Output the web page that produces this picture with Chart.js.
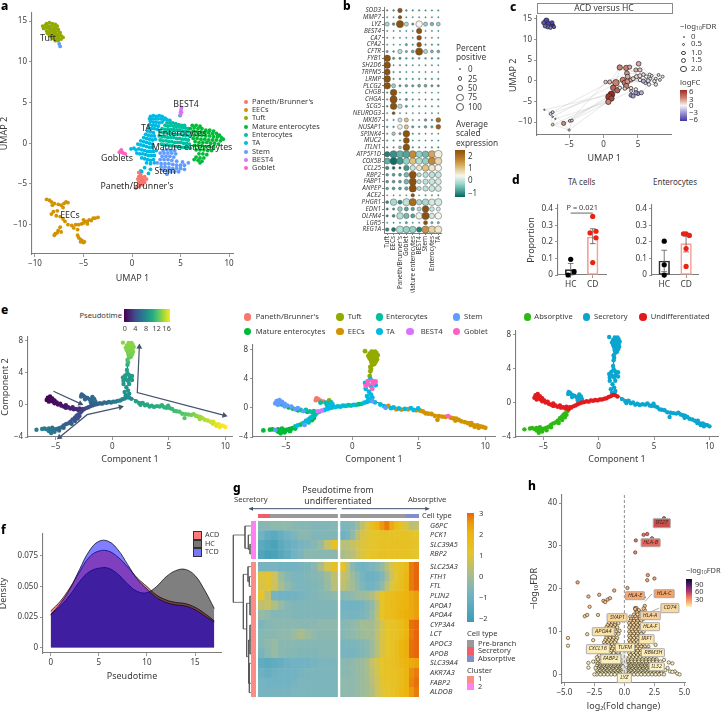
<!DOCTYPE html>
<html><head><meta charset="utf-8">
<script src="https://cdn.jsdelivr.net/npm/chart.js@4/dist/chart.umd.min.js"></script>
<style>
html,body{margin:0;padding:0;background:#fff;width:722px;height:713px;overflow:hidden}
canvas{position:absolute}
.t{position:absolute;white-space:nowrap;color:#333;line-height:1;font-family:"Noto Sans",sans-serif}
.t sub{font-size:.65em;vertical-align:-.25em;line-height:0}
.b{position:absolute}
</style></head><body>
<script>
/* ===== panel a : UMAP ===== */
const cellColors={Paneth:'#F8766D',EECs:'#D39200',Tuft:'#93AA00',Mature:'#00BA38',Entero:'#00C19F',TA:'#00B9E3',Stem:'#619CFF',BEST4:'#DB72FB',Goblet:'#FF61C3'};
const legendA=["Paneth/Brunner's",'EECs','Tuft','Mature enterocytes','Enterocytes','TA','Stem','BEST4','Goblet'];
const umapTuft=[[-8.8,14.7],[-8.5,14.8],[-8.2,14.7],[-7.9,14.6],[-9.2,14.4],[-8.9,14.5],[-8.6,14.4],[-8.3,14.4],[-8,14.3],[-7.7,14.4],[-9.1,14.1],[-8.8,14.2],[-8.5,14.1],[-8.2,14],[-7.9,14.1],[-7.6,14],[-8.8,13.8],[-8.5,13.7],[-8.2,13.8],[-7.9,13.7],[-7.6,13.8],[-7.4,13.6],[-8.7,13.5],[-8.4,13.4],[-8.1,13.5],[-7.8,13.4],[-7.5,13.4],[-8.5,13.2],[-8.2,13.1],[-7.9,13.2],[-7.6,13.1],[-7.3,13.2],[-8.2,12.9],[-7.9,12.8],[-7.6,12.9],[-7.3,12.8],[-7.9,12.6],[-7.6,12.6],[-7.1,13]];
const umapEEC=[[-8.8,-6.9],[-8.5,-7],[-8.3,-7.2],[-8.2,-7.6],[-8,-7.4],[-7.6,-7.5],[-7.3,-7.6],[-7,-7.4],[-6.8,-7.2],[-6.6,-7.3],[-7.1,-7.9],[-7.7,-8.3],[-8.1,-8.4],[-8.3,-8.7],[-7.8,-8.9],[-7.4,-9],[-7.1,-9.3],[-6.9,-9.6],[-6.6,-10],[-6.2,-10.1],[-6,-10.4],[-5.6,-10.6],[-5.8,-10],[-5.5,-10],[-5.2,-9.9],[-5,-9.8],[-4.8,-9.6],[-4.6,-9.6],[-4.4,-9.4],[-4.2,-9.5],[-4,-9.2],[-3.8,-9.2],[-3.5,-9.1],[-5,-9.4],[-4.6,-9.9],[-7.4,-10.3],[-7.6,-10.7],[-7.3,-10.9],[-7.7,-11],[-8,-11.3],[-7.9,-11.1],[-5.6,-11.3],[-5.5,-11.6],[-5.3,-11.8],[-5.1,-12],[-5,-12.2],[-5.3,-12.1],[-4.9,-12.1]];
const umapTA=[[1.9,3.3],[2.2,3.4],[2.5,3.3],[2.8,3.4],[3.1,3.3],[3.4,3.1],[1.8,3],[2.1,3],[2.4,3],[2.7,3],[3,3],[3.3,2.9],[3.6,2.9],[3.9,2.8],[1.9,2.7],[2.2,2.6],[2.5,2.6],[2.8,2.5],[3.1,2.6],[1.8,2.3],[2.1,2.2],[2.4,2.2],[2.7,2.1],[1.7,1.9],[2,1.8],[2.3,1.8],[2.6,1.7],[1.6,1.5],[1.9,1.4],[2.2,1.3],[1.4,1.1],[1.7,1],[2,.9],[2.3,.9],[1.2,.7],[1.5,.6],[1.8,.5],[2.1,.4],[2.4,.5],[.9,.3],[1.2,.2],[1.5,.1],[1.8,0],[2.1,-.1],[.6,-.1],[.9,-.2],[1.2,-.3],[1.5,-.4],[1.8,-.5],[2.1,-.5],[.2,-.6],[-.1,-.7],[.4,-.8],[.7,-.7],[1,-.8],[1.3,-.9],[1.6,-1],[1.9,-1],[2.2,-1],[2.5,-.9],[.5,-1.2],[.8,-1.3],[1.1,-1.3],[1.4,-1.4],[1.7,-1.5],[2,-1.5],[2.3,-1.5],[1,-1.8],[1.3,-1.9],[1.6,-2],[1.9,-2.1],[2.2,-2],[1.5,-2.4],[1.9,-2.5],[2.3,-2.4],[1.3,-3],[1.9,-3.2],[1.7,-3.7],[.9,-3.4],[1,-3.5]];
const umapEntero=[[3.6,2.5],[3.9,2.5],[4.2,2.5],[4.5,2.4],[4.8,2.3],[5.1,2.2],[5.4,2.2],[3.4,2.2],[3.7,2.1],[4,2.2],[4.3,2.1],[4.6,2],[4.9,2],[5.2,1.9],[5.5,1.9],[5.8,1.8],[3.1,1.8],[3.4,1.7],[3.7,1.7],[4,1.7],[4.3,1.7],[4.6,1.6],[4.9,1.6],[5.2,1.5],[5.5,1.5],[5.8,1.4],[6.1,1.3],[2.9,1.4],[3.2,1.3],[3.5,1.3],[3.8,1.2],[4.1,1.2],[4.4,1.1],[4.7,1.1],[5,1.1],[5.3,1],[5.6,1],[5.9,.9],[2.8,.9],[3.1,.8],[3.4,.8],[3.7,.7],[4,.7],[4.3,.7],[4.6,.6],[4.9,.6],[5.2,.5],[5.5,.5],[5.8,.4],[2.9,.4],[3.2,.3],[3.5,.3],[3.8,.2],[4.1,.2],[4.4,.1],[4.7,.1],[5,.1],[5.3,0],[5.6,0],[5.9,-.1],[3,-.1],[3.3,-.2],[3.6,-.2],[3.9,-.3],[4.2,-.3],[4.5,-.4],[4.8,-.4],[5.1,-.5],[5.4,-.5],[5.7,-.5],[6,-.6],[4.95,3.4]];
const umapMature=[[6.2,2.2],[6.6,2.2],[7,2.1],[6,1.8],[6.4,1.9],[6.8,1.8],[7.2,1.8],[7.6,1.6],[8,1.6],[8.4,1.5],[6.3,1.5],[6.7,1.4],[7.1,1.4],[7.5,1.3],[7.9,1.3],[8.3,1.2],[8.7,1.2],[9,1],[6.4,1],[6.8,1],[7.2,1],[7.6,.9],[8,.9],[8.4,.8],[8.8,.8],[9.2,.7],[9.4,.5],[6.3,.6],[6.7,.6],[7.1,.5],[7.5,.5],[7.9,.4],[8.3,.4],[8.7,.4],[9.1,.3],[6.5,.2],[6.9,.1],[7.3,.1],[7.7,.1],[8.1,0],[8.5,0],[8.9,-.1],[6.4,-.3],[6.8,-.3],[7.2,-.3],[7.6,-.4],[8,-.4],[8.4,-.5],[6.6,-.8],[7,-.8],[7.4,-.8],[7.8,-.9],[8.2,-.9],[6.9,-1.3],[7.3,-1.3],[7.7,-1.4],[6.6,-1.7],[7,-1.8],[7.4,-1.8],[6.8,-2.1],[7.2,-2.2],[7,-2.4],[6.4,-2]];
const umapStem=[[3.2,-.9],[3.6,-.8],[4,-.9],[4.4,-.9],[2.9,-1.2],[3.3,-1.2],[3.7,-1.2],[4.1,-1.2],[4.5,-1.3],[3.1,-1.6],[3.5,-1.6],[3.9,-1.6],[4.3,-1.7],[2.9,-2],[3.3,-2],[3.7,-2],[4.1,-2.1],[4.6,-2.2],[5.2,-2.3],[5.8,-2.4],[2.6,-2.4],[3,-2.5],[3.4,-2.5],[3.8,-2.5],[4.2,-2.6],[4.6,-2.7],[5,-2.7],[5.4,-2.7],[3,-2.9],[3.4,-2.9],[3.8,-3],[4.2,-3.1],[4.6,-3.1],[5,-3.1],[5.4,-3.2],[3.2,-3.3],[3.6,-3.4],[4,-3.5],[4.4,-3.5],[4.8,-3.5],[3.6,-3.8],[-7.5,12.2],[-7.4,11.9]];
const umapPaneth=[[.7,-3.6],[.9,-3.9],[.7,-4.1],[1,-4.2],[1.3,-4.1],[.6,-4.4],[.9,-4.5],[1.2,-4.5],[1.5,-4.4],[.7,-4.8],[1,-4.8],[1.3,-4.8],[.8,-5.1],[1.1,-5.1],[.4,-5.5],[.7,-5.3]];
const umapGoblet=[[-1.3,-1.1],[-1.1,-.8],[-1,-1.1],[-.9,-1.2],[-1.2,-1],[-.7,-1.3]];
const umapBest4=[[5.1,4.4],[5.05,4.1],[5.1,3.8],[5,3.5],[5,3.8]];

/* ===== panel b : dot plot ===== */
const dotGenes=['SOD3','MMP7','LYZ','BEST4','CA7','CPA2','CFTR','FYB1','SH2D6','TRPM5','LRMP','PLCG2','CHGB','CHGA','SCG5','NEUROG3','MKI67','NUSAP1','SPINK4','MUC2','ITLN1','ATP5F1D','COX5B','CCL25','RBP2','FABP1','ANPEP','ACE2','PHGR1','EDN1','OLFM4','LGR5','REG1A'];
const dotClusters=['Tuft','EECs',"Paneth/Brunner's",'Goblet','Mature enterocytes','BEST4','Stem','Enterocytes','TA'];
const dotSize=[[1,1.2,3.3,1.2,1,1,.9,.9,.9],[.8,.8,2.5,.8,.8,.8,.8,.8,.8],[3,1.8,5.5,3,1.5,5,3,2.5,2.8],[.8,.8,.8,.8,.8,4,.8,.8,.8],[.8,.8,.8,.8,.8,3.5,.8,.8,.8],[.8,.8,.8,1.5,1,3.5,1,1,1],[1.5,1.2,3.2,1.5,2,5.5,3,2,2],[5,1.5,1.5,1.2,1.2,1.2,1.2,1.2,1.2],[5,.8,1,1,.8,.8,.8,.8,.8],[4.5,1,1,.8,.8,.8,.8,.8,.8],[5,1,1.2,1,1,1,1,1,1],[5,3,1.5,1.8,1.5,2,2,1.5,1.5],[1,5,.8,1,.8,.8,.8,.8,.8],[1,5.5,1,1.5,1,1,.8,1,1],[1.2,5,3.2,1.5,1,1,1,1,1],[.8,2,.8,.8,.8,.8,.8,.8,.8],[1,1,3,3,1,1,1.8,1.2,3.5],[1.2,1.2,3.5,3,1.5,1.2,1.8,1.5,3.5],[1,2.5,1.5,5,1,1,.8,.8,.8],[1,1,1,4.5,.8,.8,.8,.8,.8],[1,1,2,5,1,1,.8,1,1],[4,5.5,5.5,5.5,5.5,5,5,5.5,6],[4.5,5.5,5,5,5,5,5,5.5,5.5],[2.5,2,1.5,4,4,4,5,5,5],[1.8,2,2,3.5,5.5,3,4,4.5,4.5],[1.8,2,2,3.5,5.5,3,4,4.5,4.5],[1.8,2,2,2.5,5.5,3,4,4.5,4.5],[.8,.8,.8,.8,2.5,.8,1,1,1],[2,5,3,5.5,5.5,4,5,5,5.5],[1.5,1.5,3.5,3,2.5,3,5,3.5,3],[1.5,2,5,4,3,5,5.5,4,5],[.8,.8,1,1.5,.8,.8,3,1.5,1.5],[2.5,3,5.5,5,5,4,5.5,5.5,5.5]];
const dotExpr=[[-1,-1,2.4,-1,-1,-1,-1,-1,-1],[-1,-1,2.4,-1,-1,-1,-1,-1,-1],[-.4,-1,2.4,-.4,-.9,.3,-.5,-.7,-.5],[-1,-1,-1,-1,-1,2.4,-1,-1,-1],[-1,-1,-1,-1,-1,2.4,-1,-1,-1],[-1,-1,-1,-.8,-1,2.4,-1,-1,-1],[-.8,-1,-.3,-.8,-.8,2.4,-.4,-.7,-.7],[2.4,-1,-1,-1,-1,-1,-1,-1,-1],[2.4,-1,-1,-1,-1,-1,-1,-1,-1],[2.4,-1,-1,-1,-1,-1,-1,-1,-1],[2.4,-1,-1,-1,-1,-1,-1,-1,-1],[2.4,-.5,-.9,-.8,-.9,-.8,-.8,-.9,-.9],[-1,2.4,-1,-1,-1,-1,-1,-1,-1],[-1,2.4,-1,-.9,-1,-1,-1,-1,-1],[-1,2.4,-.3,-.9,-1,-1,-1,-1,-1],[-1,2.4,-1,-1,-1,-1,-1,-1,-1],[-1,-1,-.1,1,-.9,-1,-.8,-1,2],[-1,-1,.2,1,-.9,-1,-.8,-.9,2.2],[-.9,-.5,-.8,2.4,-1,-1,-1,-1,-1],[-1,-1,-1,2.4,-1,-1,-1,-1,-1],[-1,-1,-.6,2.4,-1,-1,-1,-1,-1],[-1.3,-1.1,-.8,-.9,1.6,-.5,-.7,1.3,.4],[-.8,-1.5,-1,-.5,1,-.3,-.5,1.6,.7],[-1.1,-1.5,-1.6,-1,-.1,.5,1,.5,.3],[-.9,-.9,-.9,-.7,2.4,-.3,-.2,-.2,-.1],[-.9,-.9,-.9,-.7,2.4,-.3,-.2,-.1,0],[-.9,-.9,-.9,-.8,2.4,-.3,-.2,-.1,0],[-.9,-.9,-.9,-.9,2.4,-.9,-.8,-.8,-.8],[-1.1,-.4,-1.2,-.2,2,-.4,-.4,0,0],[-1.2,-1.1,-.5,-.9,-.9,-.3,2.4,-.1,0],[-1.2,-1.1,-.3,-.7,-.9,.2,2.4,0,.3],[-1,-1,-.9,-.8,-1,-1,2.4,-.7,-.7],[-1.2,-1.4,-.3,-.5,-.5,-1.3,1.5,.8,.5]];

/* ===== panel c : network ===== */
const netNodes=[[-8.3,14.5,4,-5.5],[-8.7,14,3,-5],[-8,13.8,3.2,-5.5],[-7.4,13.4,3,-6],[-7.5,14,3,-5.5],[-8.1,13,3,-4.5],[-7.7,12.8,2.5,-4],[-8.5,13.2,2.8,-4.5],[-7.2,13,2.5,-5],
[-8.6,-7,.8,-1],[-7.4,-7.6,2,-1],[-7.7,-8,2,-.8],[-7.4,-8.7,1,-.5],[-7,-9.2,.8,-.5],[-7.4,-10.6,1.8,.6],[-5.8,-10.3,3,2.6],[-4.9,-9.7,2,1.2],[-4.6,-9.6,2,1.2],[-5,-11.9,1.5,.1],
[2.36,3.2,4,3],[3.3,3.1,4,3],[3.8,3.3,3,2],[5.1,4.1,3.5,2],[3.4,1.8,3.5,2.5],[4.7,2.6,3,1.8],[5.3,2.6,3,1.2],[.9,-.3,3,1.5],[.3,-.3,2.5,1],[1.8,-.5,5,3],[1.4,-1.7,4,4],[2,-2.3,4,4],[1.15,-3.3,5,6],[.8,-3.9,5,5.5],[1.15,-4.3,4,5],[.7,-5.1,4,3],[2.8,.2,4,3],[3.1,-.5,4,3],[3.5,-.15,4,2.5],[3.3,-1.3,4,3],[4,.2,3,2],[3.5,1,3.5,2],[4.3,.5,3,1],[4.8,1,3,1],[5.3,1.2,3,.5],[5.8,1.5,2.5,-.5],[6.2,1,2.5,0],[6.5,0,3,-1],[5.8,-.1,3,-2],[5.3,.2,2.5,.3],[7.4,-.1,2.5,.3],[8,1.4,2,.5],[8.6,1,2,.3],[7.6,-.9,2.5,-.5],[6.6,-.9,2.5,-.2],[4,-1.8,2.5,.5],[4.7,-2.1,2.5,.2],[4,-3.5,3,-3],[4.3,-3.7,3,-2.5],[5,-3.1,3,-2.5],[5.5,-2.9,3,-2],[4.7,-2.9,3,-3],[2.36,-1.7,2.5,.5],[3.1,-1.9,2.5,1],[4,-2.5,2,.3],[6.8,.5,2,.3],[7,1.2,2,0],[7.6,.5,2,.2],[8.2,.2,2,.1],[6.1,-.6,2,-1],[6.7,1.5,2,-.2]];
const netEdges=[[9,10],[10,11],[11,12],[12,13],[13,14],[14,15],[15,16],[16,17],[10,15],[11,14],[14,18],[15,18],[18,17],[17,34],[16,32],[15,31],[18,33],[13,34],[12,35],[10,26],[11,30],[16,27],[14,33],[9,31],[19,20],[20,21],[21,22],[19,23],[23,24],[24,25],[22,25],[26,28],[27,28],[28,29],[29,30],[30,31],[31,32],[32,33],[33,34],[28,35],[35,36],[36,37],[37,38],[35,40],[40,41],[41,42],[42,43],[43,44],[44,45],[45,46],[46,47],[47,48],[48,39],[39,36],[49,50],[50,51],[51,49],[46,49],[45,64],[64,65],[65,66],[66,67],[67,51],[52,53],[53,46],[52,67],[54,55],[55,58],[58,59],[59,53],[56,57],[57,60],[60,54],[61,62],[62,63],[63,54],[38,62],[30,61],[19,28],[26,19],[27,23],[20,43],[23,44],[24,69],[69,50],[25,64],[47,68],[68,52],[38,54],[36,47],[37,48],[28,40],[30,38],[48,46],[22,69],[41,64],[42,65],[43,66],[44,49],[39,68],[61,55],[63,60],[31,62],[34,63],[33,61]];

/* ===== panel d ===== */
const groupNames=['HC','CD'];
const taBars=[.033,.23], taErr=[[0,.07],[.19,.28]];
const taHC=[[0,.095],[.15,.02],[-.12,0]], taCD=[[0,.355],[0,.075],[-.12,.255],[.15,.265],[.15,.225]];
const enBars=[.085,.19], enErr=[[.02,.15],[.14,.235]];
const enHC=[[0,.205],[0,.062],[0,0]], enCD=[[0,.052],[0,.16],[-.12,.25],[0,.25],[.15,.24]];

/* ===== panel e : trajectory, rows are component 1, component 2, pseudotime, cell type ===== */
const cellOrder=['Paneth','EECs','Tuft','Mature','Entero','TA','Stem','BEST4','Goblet'];
const trajUpper=[[-5.7,.9,0,6],[-5.5,1.05,.1,6],[-5.8,.6,.2,6],[-5.5,.7,.2,6],[-5.3,.8,.3,6],[-5.6,.4,.3,6],[-5.3,.45,.4,4],[-5.1,.55,.5,6],[-5.1,.2,.6,6],[-4.9,.3,.7,6],[-4.8,.05,.8,3],[-4.6,.15,.9,6],[-4.5,-.1,1,3],[-4.3,-.2,1.1,6],[-4.1,-.05,1.2,6],[-4.1,-.35,1.3,3],[-3.9,-.3,1.4,4],[-3.7,-.45,1.6,6],[-3.5,-.3,1.7,4],[-3.4,-.55,1.8,3],[-3.2,-.5,2,4],[-3,-.65,2.2,4],[-2.9,-.45,2.4,4],[-2.7,-.75,2.6,4],[-2.6,-.5,2.8,7]];
const trajShort=[[-2.7,1.3,5,0],[-2.55,1.15,5,0],[-2.75,1.05,5,0],[-2.4,.95,5,0],[-2.2,.85,5.2,0],[-2.4,.7,5.2,4],[-2,.7,5.4,4],[-1.75,1,5.5,2],[-1.8,.6,5.5,5],[-1.6,.75,5.6,4],[-1.9,.35,5.4,4],[-1.65,.3,5.6,5],[-1.5,.45,5.8,5],[-1.8,.05,5.2,4]];
const trajConn=[[-2.5,-.55,3.2,4],[-2.3,-.4,3.6,7],[-2.1,-.3,3.9,5],[-1.9,-.15,4.2,5],[-1.7,-.05,4.5,5],[-1.5,.05,4.8,4],[-1.3,.1,5,5],[-1.1,.2,5.2,4],[-.9,.15,5.4,5],[-.7,.3,5.6,4],[-.5,.25,5.8,5],[-.3,.35,6,4],[-.1,.3,6.2,4],[.1,.4,6.4,5],[.3,.4,6.6,4],[.5,.5,6.8,3],[.7,.55,7,4],[.9,.7,7.2,5],[1.1,.8,7.4,5],[1.3,.95,7.6,5],[1.5,.9,7.7,6],[1.7,.75,7.8,5]];
const trajLower=[[-2.8,-.95,3.5,4],[-3,-1.2,3.7,4],[-2.9,-1.4,3.8,3],[-3.15,-1.35,3.9,5],[-3.3,-1.6,4,5],[-3.05,-1.7,4,3],[-3.5,-1.8,4.2,5],[-3.3,-2,4.3,4],[-3.7,-2.1,4.4,5],[-3.9,-2.3,4.6,3],[-3.6,-2.35,4.6,6],[-4.1,-2.4,4.8,5],[-4.3,-2.55,5,4],[-4.5,-2.8,5.2,3],[-4.3,-2.85,5.2,3],[-4.7,-2.9,5.4,3],[-4.9,-3,5.6,3],[-4.7,-3.2,5.6,3],[-5.1,-3.05,5.8,3],[-5.3,-2.85,6,3],[-5.1,-3.35,6,3],[-5.4,-3.2,6.2,3],[-5.6,-2.95,6.3,3],[-5.6,-3.25,6.3,3],[-5.4,-3.5,6.4,3],[-5.8,-3.05,6.5,6],[-6,-2.95,6.6,3],[-6.2,-3,6.7,3],[-6.7,-3.1,6.8,3]];
const trajUp=[[1.4,1,8,5],[1.2,1.2,8,5],[1.5,1.4,8.1,5],[1.1,1.6,8.2,5],[1.4,1.8,8.2,5],[1.25,2.2,8.4,5],[1,2.6,8.5,5],[1.5,2.6,8.5,8],[1,3,8.6,8],[1.4,3,8.6,5],[1.75,3.1,8.7,5],[1.2,3.2,8.7,8],[1.55,3.3,8.7,8],[.95,3.4,8.8,5],[1.75,3.6,8.8,8],[1.5,3.7,8.9,8],[1.15,3.65,8.9,8],[1.35,3.95,9,5],[1.3,4.35,9.2,2],[1.35,5,10,2],[1.4,5.3,11,2],[1.35,5.6,11.5,2],[1.5,5.9,12,2],[1.65,6,12.2,2],[1.45,6.2,12.5,2],[1.75,6.3,12.6,2],[1.4,6.5,12.7,2],[1.6,6.5,12.8,2],[1.85,6.6,12.8,2],[1.3,6.8,12.9,2],[1.55,6.8,12.9,2],[1.8,6.9,13,2],[1.2,7.1,13,2],[1.45,7.1,13,2],[1.7,7.2,13,2],[1.9,7.2,13,2],[1.3,7.4,13.1,2],[1.55,7.4,13.1,2],[1.8,7.5,13.1,2],[1.45,7.7,13.2,2],[1.7,7.7,13.2,2],[.95,7.75,13.2,2]];
const trajRight=[[2.1,.45,9,5],[2.4,.2,9.2,5],[2.5,0,9.3,6],[2.7,.25,9.4,1],[2.9,-.05,9.5,5],[3.1,.05,9.6,5],[3.3,-.2,9.7,1],[3.5,-.1,9.8,5],[3.7,-.25,9.9,1],[3.95,-.15,10,5],[4.2,-.2,10.1,1],[4.4,-.05,10.2,5],[4.6,-.3,10.3,5],[4.8,-.35,10.4,1],[4.95,-.1,10.4,5],[5.1,-.4,10.5,1],[5.3,-.5,10.7,1],[5.5,-.75,11,1],[5.7,-.8,11.2,1],[5.95,-.85,11.4,1],[6.2,-1.1,11.7,1],[6.4,-1.65,11.8,1],[6.5,-1.15,11.9,1],[6.75,-1.2,12.2,1],[7,-1.25,12.5,1],[7.2,-1.15,12.7,8],[7.4,-1.35,13,1],[7.6,-1.45,13.3,1],[7.8,-1.5,13.6,1],[7.75,-1.75,13.6,1],[8,-1.65,14,1],[8.2,-1.85,14.2,1],[8.45,-1.95,14.6,1],[8.7,-2.1,15,1],[8.95,-2.1,15.4,1],[8.9,-2.35,15.4,1],[9.15,-2.4,15.8,1],[9.4,-2.4,16.2,1],[9.2,-2.6,16,1],[9.6,-2.55,16.5,1],[9.8,-2.6,16.8,1],[10,-2.75,17,1],[9.5,-2.75,16.4,1]];
const trajSpine=[[[1.35,3.8],[1.35,5.6]],[[1.6,.9],[3,.05]],[[-2.6,-.7],[-1.6,.1]]];
const arrowA=[[-5.2,1.69],[-2.82,.15]], arrowB=[[-4.66,-4.02],[-2.22,-1.22],[.74,-.27]], arrowC=[[2.4,7.22],[2.22,1.52],[9.92,-1.31]];
const stateColors={Absorptive:'#2dbb13',Secretory:'#0aa6d0',Undifferentiated:'#e31a1c'};

/* ===== panel f ===== */
const densX=[0,1,2,3,4,5,6,7,8,9,10,11,12,13,14,15,16,17];
const densACD=[.030,.038,.049,.062,.074,.079,.079,.074,.066,.057,.050,.043,.039,.037,.036,.033,.028,.022];
const densHC=[.027,.034,.043,.054,.062,.065,.065,.060,.052,.046,.045,.050,.058,.063,.064,.059,.047,.032];
const densTCD=[.027,.036,.048,.064,.079,.087,.087,.080,.068,.056,.048,.041,.037,.035,.034,.031,.026,.021];

/* ===== panel g ===== */
const heatGenesTop=['G6PC','PCK1','SLC39A5','RBP2'];
const heatGenesBottom=['SLC25A3','FTH1','FTL','PLIN2','APOA1','APOA4','CYP3A4','LCT','APOC3','APOB','SLC39A4','AKR7A3','FABP2','ALDOB'];
const heatTop=[[-.6,-.5,-.4,-.4,-.4,-.5,-.6,-.6,-.7,-.7,-.7,-.6,-.8,-.8,-.6,-.2,.3,.8,1.5,1.9,2.5,2.8,2.2,1.6,1.2,.7,.2,.3],
[-1,-1.3,-1.4,-1.2,-1,-.8,-.5,-.5,-.7,-.7,-.7,-.7,-1.1,-.9,-.4,.2,.7,.9,1,1,1.1,1.2,1.2,1.2,1.2,1.2,1.1,1],
[-1.4,-1.6,-1.7,-1.4,-1.2,-1.1,-.9,-.8,-.6,-.3,.4,1.2,.2,.2,.4,.6,.8,.9,1,1.1,1.2,1.2,1.3,1.3,1.3,1.3,1.2,1.1],
[-1.6,-1.8,-1.7,-1.5,-1.3,-1,-.8,-.5,-.5,-.5,-.5,-.5,0,.1,.2,.5,.8,1,1.1,1.1,1.2,1.2,1.2,1.2,1.2,1.2,1.1,1]];
const heatBottom=[[-.9,-.9,-.9,-1,-1,-1,-.9,-.8,-.5,0,.6,1.3,1.1,.3,-.5,-.9,-1,-.9,-.8,-.6,-.3,.2,.7,1.1,1.3,1.6,2.8,3],
[.8,.9,.5,-.2,-.6,-.8,-.8,-.7,-.6,-.5,-.2,.3,.4,.2,-.2,-.5,-.9,-1.1,-1.1,-1,-.7,-.1,.5,1,1.4,1.8,2.8,3],
[.7,.9,.5,0,-.4,-.7,-.8,-.8,-.7,-.6,-.3,.2,.3,.1,-.1,-.4,-.7,-1,-1,-.8,-.4,.2,.8,1.2,1.5,1.9,2.8,3],
[1,.3,-.9,-1,-1,-1,-.9,-.8,-.7,-.6,-.5,-.4,-.6,-.5,-.4,-.2,-.2,-.1,.1,.5,1.1,1.5,1.6,1.7,1.8,2,2.2,2.4],
[.3,.4,.1,-.3,-.6,-.7,-.7,-.7,-.7,-.7,-.7,-.7,-1,-1,-1,-1,-.9,-.7,-.4,.2,1,1.4,1.6,1.7,1.9,2,2.2,2.4],
[-.3,-.4,-.6,-.6,-.6,-.7,-.7,-.7,-.7,-.7,-.7,-.7,-.9,-.9,-.9,-.9,-.8,-.6,-.3,.3,1.1,1.5,1.6,1.8,2,2.1,2.2,2.4],
[-.8,-.6,-.5,-.5,-.5,-.5,-.5,-.5,-.5,-.4,-.4,-.4,-.6,-.5,-.4,-.3,-.1,-.1,-.1,.2,.6,1,1.2,1.3,1.6,2,2.9,3],
[-.6,-.5,-.5,-.4,-.4,-.2,0,-.2,-.4,-.5,-.5,-.5,-.6,-.5,-.4,-.3,-.2,-.1,-.1,.3,.7,1,1.2,1.3,1.6,1.9,2.8,3],
[-.6,-.4,-.3,-.5,-.5,-.5,-.6,-.6,-.6,-.6,-.6,-.6,-.9,-.8,-.8,-.7,-.6,-.5,-.2,.2,.7,1,1.2,1.5,1.9,2.1,2.9,3],
[-.9,-.5,-.3,-.5,-.6,-.6,-.7,-.7,-.7,-.6,-.6,-.6,-.9,-.9,-.9,-.8,-.7,-.5,-.2,.2,.7,1,1.2,1.5,1.9,2.1,2.9,3],
[-1.3,-1.4,-1.3,-1.2,-1.1,-1,-1,-1,-.9,-.8,-.8,-.8,-.5,-.5,-.4,-.3,-.2,0,.4,.7,1,1.2,1.3,1.5,1.8,2,2.2,2.3],
[-1.1,-1.2,-1.1,-1,-1,-1,-.9,-.8,-.8,-.8,-.8,-.8,-.5,-.5,-.4,-.3,-.2,0,.3,.6,1,1.2,1.3,1.4,1.6,1.9,2.6,2.8],
[-.9,-1,-1,-1,-1,-.9,-.8,-.8,-.8,-.8,-.8,-.8,-.4,-.4,-.4,-.3,-.2,-.1,.2,.5,.9,1.1,1.2,1.3,1.6,1.9,2.7,2.9],
[-.9,-.9,-.9,-.9,-.9,-.8,-.8,-.8,-.8,-.8,-.8,-.8,-.4,-.4,-.4,-.3,-.2,-.1,.1,.5,.8,1,1.2,1.4,1.7,2,2.5,2.8]];
const cellTypeBands=[[0,1.86,'#f25c69'],[1.86,12,'#999999'],[12.45,22.27,'#999999'],[22.27,24.28,'#7f8fc9']];
const dendroLines=[[[40,315],[40,517]],[[40,315],[75,315]],[[40,517],[70,517]],[[75,288],[75,355]],[[75,288],[94,288]],[[75,355],[85,355]],[[85,315],[85,358]],[[85,315],[94,315]],[[85,358],[90,358]],[[90,343],[90,372]],[[90,343],[94,343]],[[90,372],[94,372]],[[70,433],[70,597]],[[70,433],[84,433]],[[84,410],[84,455]],[[84,410],[94,410]],[[84,455],[88,455]],[[88,440],[88,469]],[[88,440],[94,440]],[[88,469],[94,469]],[[70,597],[80,597]],[[80,520],[80,680]],[[80,520],[90,520]],[[90,498],[90,555]],[[90,498],[94,498]],[[90,555],[94,555]],[[80,680],[86,680]],[[86,630],[86,760]],[[86,630],[94,630]],[[86,760],[94,760]],[[90,585],[90,672]],[[90,585],[94,585]],[[90,672],[94,672]],[[88,700],[88,788]],[[88,700],[94,700]],[[88,788],[94,788]]];

/* ===== panel h : volcano ===== */
const volcSingles=[[3.3,36.5],[1.6,32.6],[1.9,32.8],[2.3,31.8],[.95,31.3],[.9,28.5],[1.95,23.2],[1.9,22],[2.5,22.4],[.25,20.2],[-3.9,21.5],[-.85,19.6],[-3,18.2],[-2.1,18.6],[-1.75,17.2],[-1.4,17.5],[-1.2,17.8],[-1.6,16.9],[-2.9,15.8],[-3.3,13.6],[-3.1,13.9],[-2.2,13.9],[-4.7,8.5],[-4.7,6.7],[-3.1,9.4],[-2.6,8],[-2.5,6.5],[-2.3,5.5],[-2.6,3],[-3,2.7],[-3,1.6],[3.3,3.4],[3.7,2.8],[4,2.6],[2.6,5.2],[2.6,6.9],[1.7,16],[1.6,15.4],[1.6,18],[.9,15.3],[3.4,1],[3.8,.7],[4.2,.7],[4.4,.2],[4.6,0],[4,.6],[3.6,1.5],[3.2,2.2],[-2.5,0],[-2.4,1.5],[3.1,.2],[3.3,0],[-.4,10.2]];
const volcRows=[[13,[-1,-.7,.55,.8,1,1.3,1.6]],[12.5,[-1.2,-.9,-.7,.5,.8,1.1,1.4]],[12,[-1.3,-1,-.75,-.5,.4,.7,1,1.3]],[11.5,[-1.4,-1.1,-.8,.5,.8,1.1,1.4]],[11,[-1.5,-1.2,-.9,-.6,.4,.7,1,1.3,1.6]],[10.5,[-1.4,-1.1,-.8,.6,.9,1.2,1.5]],[10,[-1.3,-1,-.7,.4,.7,1,1.3,1.6]],[9.5,[-1.4,-1.1,-.8,-.5,.5,.8,1.1,1.4]],[9,[-1.5,-1.2,-.9,.4,.7,1,1.3,1.6]],[8.5,[-1.5,-1.2,-.9,-.6,.5,.8,1.1,1.4,1.7]],[8,[-1.6,-1.3,-1,-.7,.4,.7,1,1.3,1.6]],[7.5,[-1.7,-1.4,-1.1,-.8,.5,.8,1.1,1.4,1.7,2]],[7,[-1.6,-1.3,-1,-.6,.4,.7,1,1.3,1.6]],[6.5,[-1.8,-1.5,-1.2,-.9,-.5,.5,.8,1.1,1.4,1.7,2]],[6,[-1.9,-1.6,-1.3,-1,-.6,.4,.7,1,1.3,1.6,1.9]],[5.5,[-2,-1.7,-1.4,-1.1,-.8,-.4,.5,.8,1.1,1.4,1.7,2]],[5,[-1.9,-1.5,-1.2,-.9,-.5,.4,.7,1,1.3,1.6,1.9,2.2]],[4.5,[-2.1,-1.7,-1.4,-1.1,-.7,-.4,.5,.8,1.1,1.4,1.7,2,2.3]],[4,[-2.3,-1.8,-1.5,-1.2,-.9,-.5,.4,.7,1,1.3,1.6,1.9,2.2,2.5]],[3.5,[-2.2,-1.9,-1.6,-1.3,-1,-.6,-.3,.3,.6,.9,1.2,1.5,1.8,2.1,2.4,2.7]],[3,[-2.4,-2,-1.7,-1.4,-1.1,-.8,-.5,-.2,.3,.6,.9,1.2,1.5,1.8,2.1,2.4,2.7,3]],
[13.5,[.5,.9,1.3]],[14,[.8,1.1,1.5]],[14.5,[1.05,1.4]],[15,[.95,1.2,1.7]],[15.5,[.9,1]],
[2.5,[-2.2,-1.9,-1.6,-1.3,-1,-.7,-.4,-.2,.2,.4,.7,1,1.3,1.6,1.9,2.2,2.5,2.8]],[2,[-2.3,-2,-1.7,-1.4,-1.1,-.8,-.5,-.25,.25,.5,.8,1.1,1.4,1.7,2,2.3,2.6,2.9]],[1.5,[-2.2,-1.9,-1.6,-1.3,-1,-.7,-.4,-.2,.2,.4,.7,1,1.3,1.6,1.9,2.2,2.5,2.8,3.1]],[1,[-2.3,-2,-1.7,-1.4,-1.1,-.8,-.5,-.25,.25,.5,.8,1.1,1.4,1.7,2,2.3,2.6,2.9]],[.5,[-2.2,-1.9,-1.6,-1.3,-1,-.7,-.4,-.2,.2,.4,.7,1,1.3,1.6,1.9,2.2,2.5,2.8,3.1]],[0,[-2.3,-2,-1.7,-1.4,-1.1,-.8,-.5,-.25,.25,.5,.8,1.1,1.4,1.7,2,2.3,2.6,2.9]],
[2.25,[-2.05,-1.75,-1.45,-1.15,-.85,-.55,-.3,.3,.55,.85,1.15,1.45,1.75,2.05,2.35]],[1.75,[-2.1,-1.8,-1.5,-1.2,-.9,-.6,-.3,.3,.6,.9,1.2,1.5,1.8,2.1,2.4,2.7]],[1.25,[-2.15,-1.85,-1.55,-1.25,-.95,-.65,-.35,.35,.65,.95,1.25,1.55,1.85,2.15,2.45]],[.75,[-2.05,-1.75,-1.45,-1.15,-.85,-.55,-.3,.3,.55,.85,1.15,1.45,1.75,2.05,2.35,2.65]],[.25,[-2.15,-1.85,-1.55,-1.25,-.95,-.65,-.35,.35,.65,.95,1.25,1.55,1.85,2.15,2.45,2.75]]];
const volcCenter=[[0,5.2],[-.1,4.5],[.05,4],[-.05,3.4],[0,2.8],[.1,2.2],[-.1,1.7],[0,1.2],[.05,.8],[-.05,.4],[0,0]];
const volcLabels=[['IFI27',485,160,'#c84f50'],['HLA-B',452,218,'#e8665a'],['HLA-E',405,377,'#f5a875'],['HLA-C',492,371,'#f3a268'],['CD74',510,414,'#f8d9a0'],['HLA-A',450,437,'#f7cf9a'],['SYAP1',352,443,'#f8d79b'],['HLA-F',450,470,'#fbe3a8'],['APOA4',310,485,'#fbe3a8'],['IRF1',440,508,'#fbe7b0'],['CXCL16',293,538,'#fcedb8'],['TUFM',375,533,'#fcedb8'],['RBM3H',460,548,'#fcedb8'],['FABP2',332,568,'#fcefbc'],['IL32',470,590,'#fdf2c2'],['LYZ',373,625,'#fdf3c8']];
const volcLinks=[[[.3,18],[1.6,17.5]],[[1.7,17],[2.3,18.8]],[[1.7,14],[2.9,15.5]],[[-.5,13],[-.1,12]],[[1.2,13],[1.6,13]],[[1.3,10.5],[1.6,11]],[[1,8],[1.4,8]],[[-1.9,9.8],[-1.4,9.6]],[[-2.2,5.8],[-1.6,5.6]],[[.7,5],[1.6,5]],[[-1.1,3.5],[-.7,3.5]],[[1.6,2],[2.3,1.9]],[[0,0],[0,-.5]]];

/* ===== helpers ===== */
const FF='"Noto Sans", sans-serif', AX='#7d7d7d', TXT='#3a3a3a';
Chart.defaults.font.family=FF; Chart.defaults.color=TXT; Chart.defaults.animation=false;
Chart.defaults.plugins.legend.display=false; Chart.defaults.plugins.tooltip.enabled=false;
function box(b,cfg){
  const pl=b.pl??30,pb=b.pb??30,pr=b.pr??6,pt=b.pt??6;
  const c=document.createElement('canvas');
  const W=Math.round(pl+b.w+pr),H=Math.round(pt+b.h+pb);
  c.width=W;c.height=H;c.style.left=(b.l-pl)+'px';c.style.top=(b.t-pt)+'px';c.style.width=W+'px';c.style.height=H+'px';
  document.body.appendChild(c);
  cfg.options=cfg.options||{};
  cfg.options.responsive=false;cfg.options.maintainAspectRatio=false;cfg.options.events=[];
  cfg.options.layout={padding:{top:pt,right:b.rightAxis?0:pr,left:b.rightAxis?pl:0,bottom:0}};
  cfg.data.datasets.forEach((d,i)=>{d.order=-i;});
  for(const [k,s] of Object.entries(cfg.options.scales||{})){
    s.afterFit=k==='x'?(a=>{a.height=pb;a.paddingLeft=a.paddingRight=0;}):(a=>{a.width=b.rightAxis?pr:pl;a.paddingTop=a.paddingBottom=0;});
  }
  return new Chart(c,cfg);
}
const minus=v=>String(v).replace('-','\u2212');
function axis(min,max,vals,title,fmt,size){return {type:'linear',min,max,offset:false,
  afterBuildTicks:s=>{s.ticks=vals.map(value=>({value}));},
  grid:{drawOnChartArea:false,offset:false,color:AX,tickLength:3,tickWidth:.8},border:{color:AX,width:1.1},
  ticks:{font:{size:size||8},padding:2,maxRotation:0,autoSkip:false,color:TXT,callback:v=>fmt?fmt(v):minus(v)},
  title:{display:!!title,text:title||'',font:{size:9},padding:0,color:TXT}};}
const pts=a=>a.map(p=>({x:p[0],y:p[1]}));
const seg=ls=>{const o=[];ls.forEach(l=>{l.forEach(p=>o.push({x:p[0],y:p[1]}));o.push({x:NaN,y:NaN});});return o;};
function txt(s,x,y,o={}){const d=document.createElement('div');d.className='t';d.innerHTML=s;
  const al=o.align||'left';const tx=al==='left'?'0':al==='center'?'-50%':'-100%';
  d.style.cssText+=`left:${x}px;top:${y}px;font-size:${o.size||7.5}px;transform:translate(${tx},-50%);color:${o.color||TXT};font-weight:${o.weight||400};font-style:${o.style||'normal'};`;
  if(o.bg){d.style.background=o.bg;d.style.padding='1px 2px';d.style.border='.5px solid #aaa';d.style.borderRadius='1px';}
  document.body.appendChild(d);return d;}
function rect(x,y,w,h,css){const d=document.createElement('div');d.className='b';d.style.cssText+=`left:${x}px;top:${y}px;width:${w}px;height:${h}px;${css}`;document.body.appendChild(d);return d;}
function dot(x,y,r,css){return rect(x-r,y-r,2*r,2*r,`border-radius:50%;box-sizing:border-box;${css}`);}
function lerpStops(st,v){if(v<=st[0][0])return st[0][1];for(let i=1;i<st.length;i++){if(v<=st[i][0]){const a=st[i-1],b=st[i],t=(v-a[0])/(b[0]-a[0]);
  const h=c=>[1,3,5].map(k=>parseInt(c.substr(k,2),16));const A=h(a[1]),B=h(b[1]);return 'rgb('+A.map((q,j)=>Math.round(q+(B[j]-q)*t)).join(',')+')';}}return st[st.length-1][1];}
const STOP_DOT=[[-1.6,'#01665e'],[-1,'#3f9b90'],[-.4,'#a6dbd0'],[.3,'#f6f5ef'],[1,'#dfc27d'],[1.7,'#bf812d'],[2.4,'#8c510a']];
const STOP_FC=[[-6,'#3f36a5'],[-3,'#9a90d0'],[0,'#f7f4f6'],[3,'#cd8070'],[6,'#9e2a26']];
const STOP_VIR=[[0,'#440154'],[2,'#482576'],[4,'#3b528b'],[6,'#2c728e'],[8,'#21908d'],[10,'#27ad81'],[12,'#5cc863'],[14,'#aadc32'],[17,'#fde725']];
const STOP_HEAT=[[-2,'#3c9cb5'],[-1,'#72b3c3'],[-.4,'#8fb9ac'],[0,'#a9bd8c'],[.5,'#cdc25c'],[1,'#e5c52c'],[2,'#ecb40f'],[2.5,'#ea9a0c'],[3,'#e8650a']];
const STOP_VOL=[[0,'#fbf3c9'],[5,'#fde6ae'],[12,'#fcd49a'],[20,'#f9ac78'],[30,'#ee7b5e'],[37,'#d9505a']];

/* ===== a ===== */
const aSets=[[umapTuft,'Tuft'],[umapEEC,'EECs'],[umapTA,'TA'],[umapEntero,'Entero'],[umapMature,'Mature'],[umapStem,'Stem'],[umapPaneth,'Paneth'],[umapGoblet,'Goblet'],[umapBest4,'BEST4']];
box({l:32,t:13,w:201,h:241,pl:33,pb:30,pr:6,pt:6},{type:'scatter',data:{datasets:aSets.map(([d,k])=>({data:pts(d),backgroundColor:cellColors[k],pointRadius:1.9,borderWidth:0,clip:false}))},
 options:{scales:{x:axis(-10.3,10.4,[-10,-5,0,5,10],'UMAP 1'),y:axis(-13.6,16,[-10,-5,0,5,10,15],'UMAP 2')}}});
[['Tuft',48,38],['BEST4',186,104],['TA',146,128],['Enterocytes',182,133],['Mature enterocytes',192,147],['Goblets',117,158],['Stem',165,171],["Paneth/Brunner's",137,186],['EECs',70,215]].forEach(l=>txt(l[0],l[1],l[2],{size:8.8,align:'center',color:'#2a2a2a'}));
legendA.forEach((n,i)=>{const k=['Paneth','EECs','Tuft','Mature','Entero','TA','Stem','BEST4','Goblet'][i];const y=101.7+i*8.33;dot(245.7,y,2,`background:${cellColors[k]}`);txt(n,252,y,{size:7.4});});

/* ===== b ===== */
const dotData=[];dotGenes.forEach((g,i)=>dotClusters.forEach((c,j)=>dotData.push({x:c,y:g,r:.2+.62*dotSize[i][j],v:dotExpr[i][j]})));
box({l:384,t:6.9,w:58.1,h:225.8,pl:54,pb:60,pr:4,pt:5},{type:'bubble',data:{datasets:[{data:dotData,backgroundColor:dotData.map(d=>lerpStops(STOP_DOT,d.v)),borderColor:dotData.map(d=>d.r<1?'rgba(60,110,105,.7)':'#555'),borderWidth:.5,clip:false}]},
 options:{scales:{x:{type:'category',labels:dotClusters,offset:true,grid:{drawOnChartArea:false,color:AX,tickLength:2},border:{color:AX,width:1},ticks:{font:{size:6.4},padding:1,minRotation:90,maxRotation:90,autoSkip:false,color:TXT}},
  y:{type:'category',labels:dotGenes,offset:true,grid:{drawOnChartArea:false,color:AX,tickLength:2},border:{color:AX,width:1},ticks:{font:{size:6.4,style:'italic'},padding:1,autoSkip:false,color:TXT}}}}});
txt('Percent',456,47.7,{size:8.3});txt('positive',456,57,{size:8.3});
[[69,.7,'0'],[78.7,2.3,'25'],[88,3,'50'],[97.3,3.7,'75'],[106.7,4.2,'100']].forEach(r=>{dot(460,r[0],r[1],r[1]<1?'background:#5d8f89':'border:.7px solid #555;background:#fff');txt(r[2],468,r[0],{size:8});});
txt('Average',456,124.3,{size:8.3});txt('scaled',456,133,{size:8.3});txt('expression',456,142.7,{size:8.3});
rect(455,150,10,47,`background:linear-gradient(to bottom,#8c510a,#bf812d 20%,#dfc27d 38%,#f6f5ef 55%,#a6dbd0 70%,#3f9b90 88%,#01665e)`);
[['2',155.7],['1',167.7],['0',180],['\u22121',192.7]].forEach(l=>txt(l[0],468,l[1],{size:8}));

/* ===== c ===== */
const edgeSegs=netEdges.map(e=>[netNodes[e[0]],netNodes[e[1]]]);
box({l:536.7,t:12.7,w:135.3,h:122.3,pl:29,pb:29,pr:4,pt:2},{type:'scatter',data:{datasets:[
 {data:seg(edgeSegs),showLine:true,spanGaps:false,borderColor:'rgba(170,170,170,.45)',borderWidth:.6,pointRadius:0,clip:false},
 {data:pts(netNodes),pointRadius:netNodes.map(n=>.2+.62*n[2]),backgroundColor:netNodes.map(n=>lerpStops(STOP_FC,n[3])),borderColor:'#222',borderWidth:.7,clip:false}]},
 options:{scales:{x:axis(-9.67,9.85,[-5,0,5],'UMAP 1'),y:axis(-13.1,15.7,[-10,-5,0,5,10,15],'UMAP 2')}}});
rect(536.7,3,134,9,'border:1px solid #8a8a8a;box-sizing:content-box;background:#fff');
txt('ACD versus HC',604,8,{size:8.6,align:'center'});
txt('\u2212log<sub>10</sub>FDR',680,26.7,{size:7.8});
[[37,.7,'0'],[44.3,1.6,'0.5'],[53,2.3,'1.0'],[60.3,2.8,'1.5'],[69,3.4,'2.0']].forEach(r=>{dot(683.7,r[0],r[1],'border:.7px solid #444;background:#fff');txt(r[2],691,r[0],{size:7.8});});
txt('logFC',680,82.7,{size:7.8});
rect(680,90,7,31,`background:linear-gradient(to bottom,#9e2a26,#cd8070 25%,#f7f4f6 50%,#9a90d0 75%,#3f36a5)`);
[['6',92.3],['3',100],['0',106],['\u22123',113],['\u22126',120]].forEach(l=>txt(l[0],689,l[1],{size:7.8}));

/* ===== d ===== */
function barPanel(b,xmin,xmax,bars,errs,hc,cd,title,extra){
 const ds=[{type:'bar',data:bars.map((v,i)=>({x:i,y:v})),backgroundColor:'rgba(255,255,255,0)',borderColor:['#333','#f2a49c'],borderWidth:1,barThickness:10.7,borderSkipped:false},
  {type:'scatter',data:seg(errs.map((e,i)=>[[i,e[0]],[i,e[1]]]).concat(errs.map((e,i)=>[[i-.13,e[0]],[i+.13,e[0]]])).concat(errs.map((e,i)=>[[i-.13,e[1]],[i+.13,e[1]]]))),showLine:true,spanGaps:false,borderColor:'#555',borderWidth:.8,pointRadius:0,clip:false},
  {type:'scatter',data:pts(hc.map(p=>[p[0],p[1]])),backgroundColor:'#000',pointRadius:2.6,borderWidth:0,clip:false},
  {type:'scatter',data:pts(cd.map(p=>[1+p[0],p[1]])),backgroundColor:'#f0200f',pointRadius:2.6,borderWidth:0,clip:false}];
 if(extra)ds.push(extra);
 box(b,{type:'bar',data:{datasets:ds},options:{scales:{x:axis(xmin,xmax,[0,1],null,v=>groupNames[v],8.4),y:axis(0,.424,[0,.1,.2,.3,.4],title,v=>String(v),8.2)}}});
}
barPanel({l:558,t:205,w:48,h:70,pl:32,pb:24,pr:4,pt:4},-.577,1.605,taBars,taErr,taHC,taCD,'Proportion',
 {type:'scatter',data:seg([[[0,.375],[1,.375]]]),showLine:true,spanGaps:false,borderColor:'#555',borderWidth:.9,pointRadius:0});
barPanel({l:651.7,t:205,w:46.3,h:70,pl:32,pb:24,pr:4,pt:4},-.559,1.545,enBars,enErr,enHC,enCD,null);
txt('TA cells',581.7,182,{size:8,align:'center'});txt('Enterocytes',675,182,{size:8,align:'center'});
txt('P = 0.021',582.3,208,{size:7.4,align:'center'});

/* ===== e ===== */
const trajAll=[...trajUpper,...trajShort,...trajConn,...trajLower,...trajUp,...trajRight];
const spineDs=()=>({data:seg(trajSpine),showLine:true,spanGaps:false,borderColor:'#111',borderWidth:.7,pointRadius:0,clip:false});
const arrow=(d,rot)=>({data:pts(d),showLine:true,borderColor:'#45536e',borderWidth:1.2,pointRadius:d.map((_,i)=>rot[i]===null?0:3.4),pointStyle:'triangle',pointRotation:d.map((_,i)=>rot[i]||0),backgroundColor:'#45536e',pointBorderColor:'#45536e',pointBorderWidth:0,clip:false});
box({l:27.7,t:337,w:204,h:100.3,pl:28,pb:28,pr:4,pt:4},{type:'scatter',data:{datasets:[spineDs(),
 {data:pts(trajAll),backgroundColor:trajAll.map(r=>lerpStops(STOP_VIR,r[2])),pointRadius:2.2,borderWidth:0,clip:false},
 arrow(arrowA,[null,115]),arrow(arrowB,[231,null,77]),arrow(arrowC,[2.5,null,104.7])]},
 options:{scales:{x:axis(-7.45,10.6,[-5,0,5,10],'Component 1'),y:axis(-4,8.45,[-4,0,4,8],'Component 2')}}});
box({l:253.3,t:345,w:242.4,h:92.3,pl:28,pb:28,pr:4,pt:4},{type:'scatter',data:{datasets:[spineDs()].concat(cellOrder.map((k,i)=>({data:pts(trajAll.filter(r=>r[3]===i)),backgroundColor:cellColors[k],pointRadius:2.4,borderWidth:0,clip:false})))},
 options:{scales:{x:axis(-7.48,10.73,[-5,0,5,10],'Component 1'),y:axis(-4,8.6,[-4,0,4,8],null)}}});
const stateSets=[[trajLower,'Absorptive'],[[...trajShort,...trajUp,...trajRight],'Secretory'],[[...trajUpper,...trajConn],'Undifferentiated']];
box({l:516,t:331,w:206,h:106.3,pl:28,pb:28,pr:0,pt:4},{type:'scatter',data:{datasets:[spineDs()].concat(stateSets.map(([d,k])=>({data:pts(d),backgroundColor:stateColors[k],pointRadius:2.2,borderWidth:0,clip:false})))},
 options:{scales:{x:axis(-7.46,10.77,[-5,0,5,10],'Component 1'),y:axis(-4,8.45,[-4,0,4,8],null)}}});
txt('Pseudotime',122,316,{size:7.6,align:'right'});
rect(124.3,309,45.7,13.3,`background:linear-gradient(to right,#440154,#482576,#3b528b,#2c728e,#21908d,#27ad81,#5cc863,#aadc32,#fde725)`);
[['0',124.7],['4',135.3],['8',146],['12',156.7],['16',166.7]].forEach(l=>txt(l[0],l[1],329,{size:7.2,align:'center'}));
[["Paneth/Brunner's",'Paneth',247.7,255.7,317],['Tuft','Tuft',340,347.7,317],['Enterocytes','Entero',379.7,386,317],['Stem','Stem',456.7,464,317],['Mature enterocytes','Mature',247.7,255.7,331.7],['EECs','EECs',340,347.7,331.7],['TA','TA',379.7,386,331.7],['BEST4','BEST4',410,420.7,331.7],['Goblet','Goblet',456.7,464,331.7]].forEach(l=>{dot(l[2],l[4],3.7,`background:${cellColors[l[1]]}`);txt(l[0],l[3],l[4],{size:7.6});});
[['Absorptive',527.3,534.3],['Secretory',586.7,594],['Undifferentiated',643,650.7]].forEach(l=>{dot(l[1],317,3.7,`background:${stateColors[l[0]]}`);txt(l[0],l[2],317,{size:7.6});});

/* ===== f ===== */
const dens=(v,c)=>({type:'line',data:densX.map((x,i)=>({x,y:v[i]})),fill:'origin',backgroundColor:c,borderColor:'rgba(10,10,30,.85)',borderWidth:.9,pointRadius:0,tension:.4,clip:false});
box({l:43.3,t:534,w:178,h:118.7,pl:45,pb:29,pr:2,pt:4},{type:'line',data:{datasets:[dens(densACD,'rgba(255,0,0,.5)'),dens(densHC,'rgba(0,0,0,.5)'),dens(densTCD,'rgba(0,0,255,.5)')]},
 options:{scales:{x:axis(-.8,17.7,[0,5,10,15],'Pseudotime'),y:axis(-.0044,.093,[0,.025,.05,.075],'Density',v=>v===0?'0':v.toFixed(3))}}});
[['ACD','#fb7b7b',531],['HC','#777777',539.6],['TCD','#7777fb',548.2]].forEach(l=>{rect(193.3,l[2],8.4,8.5,`background:${l[1]};box-sizing:border-box;border:.7px solid #333`);txt(l[0],205,l[2]+4.2,{size:7.2});});

/* ===== g ===== */
function heatDs(rows){const ds=[];const n=rows[0].length;for(let c=0;c<n;c++){const left=c<12;const a=left?c:12.45+(c-12)*.7394,b=left?c+1:a+.7394;
  ds.push({data:rows.map(()=>[a,b]),backgroundColor:rows.map(r=>lerpStops(STOP_HEAT,r[c])),borderColor:rows.map(r=>lerpStops(STOP_HEAT,r[c])),borderWidth:.4,borderSkipped:false,grouped:false,barPercentage:1,categoryPercentage:1});}return ds;}
function heat(t,h,labels,rows){box({l:257.7,t,w:161,h,pl:0,pb:0,pr:60,pt:0,rightAxis:true},{type:'bar',data:{labels,datasets:heatDs(rows)},options:{indexAxis:'y',scales:{
 x:{type:'linear',min:0,max:24.28,display:false},
 y:{type:'category',position:'right',grid:{display:false},border:{display:false},ticks:{font:{size:7.4,style:'italic'},padding:3,autoSkip:false,color:TXT}}}}});}
heat(520.7,38.3,heatGenesTop,heatTop);heat(562.3,135,heatGenesBottom,heatBottom);
box({l:257.7,t:514,w:161,h:4,pl:0,pb:0,pr:0,pt:0},{type:'bar',data:{labels:['Cell type'],datasets:cellTypeBands.map(b=>({data:[[b[0],b[1]]],backgroundColor:b[2],grouped:false,barPercentage:1,categoryPercentage:1,borderWidth:0}))},
 options:{indexAxis:'y',scales:{x:{type:'linear',min:0,max:24.28,display:false},y:{type:'category',display:false}}}});
txt('Cell type',422,516,{size:7.4});
box({l:230,t:510,w:22,h:190,pl:0,pb:0,pr:0,pt:0},{type:'scatter',data:{datasets:[{data:seg(dendroLines),showLine:true,spanGaps:false,borderColor:'#555',borderWidth:.8,pointRadius:0}]},options:{scales:{x:{type:'linear',min:30,max:96,display:false},y:{type:'linear',min:240,max:810,reverse:true,display:false}}}});
rect(251.3,520.7,4.4,38.3,'background:#ff80f0');rect(251.3,562.3,4.4,135,'background:#fb8d86');
txt('Secretory',234,500,{size:7.6});txt('Absorptive',408,500,{size:7.6});
txt('Pseudotime from',338,490,{size:8.8,align:'center'});txt('undifferentiated',338,500.7,{size:8.8,align:'center'});
const arrowSvg=document.createElementNS('http://www.w3.org/2000/svg','svg');arrowSvg.setAttribute('width','190');arrowSvg.setAttribute('height','8');arrowSvg.style.cssText='position:absolute;left:245px;top:505px';
arrowSvg.innerHTML='<path d="M4 3.7H91.7M96.7 3.7H184.3" stroke="#3e4f6e" stroke-width="1"/><path d="M4 3.7l4-2v4zM184.3 3.7l-4-2v4z" fill="#3e4f6e"/>';document.body.appendChild(arrowSvg);
rect(467.3,513.3,7,109,`background:linear-gradient(to bottom,#e8650a,#ea9a0c 9%,#ecb40f 18%,#e5c52c 37%,#a9bd8c 56%,#72b3c3 75%,#3c9cb5)`);
[['3',514.3],['2',535],['1',556],['0',577],['\u22121',598],['\u22122',619]].forEach(l=>txt(l[0],479,l[1],{size:7.6}));
txt('Cell type',467,634.3,{size:7.6});
[['Pre-branch','#999999',640],['Secretory','#f25c69',647.4],['Absorptive','#7f8fc9',654.8]].forEach(l=>{rect(467.3,l[2],7,7.4,`background:${l[1]}`);txt(l[0],478,l[2]+3.7,{size:7.4});});
txt('Cluster',467,670.7,{size:7.6});
[['1','#fb8d86',675.7],['2','#ff80f0',683]].forEach(l=>{rect(467.3,l[2],7,7.3,`background:${l[1]}`);txt(l[0],478,l[2]+3.7,{size:7.4});});

/* ===== h ===== */
const volcRest=[];volcRows.forEach(r=>r[1].forEach(x=>volcRest.push([x,r[0]])));volcRest.sort((a,b)=>b[1]-a[1]);
const volcAll=[...volcRest,...volcSingles];
box({l:562.3,t:494.3,w:123.4,h:189,pl:33,pb:29,pr:6,pt:4},{type:'scatter',data:{datasets:[
 {data:seg(volcLinks),showLine:true,spanGaps:false,borderColor:'#777',borderWidth:.6,pointRadius:0,clip:false},
 {data:pts(volcAll),pointRadius:1.7,backgroundColor:volcAll.map(p=>lerpStops(STOP_VOL,p[1])),borderColor:'rgba(30,25,10,.85)',borderWidth:.6,clip:false},
 {data:pts(volcCenter),pointRadius:1.7,backgroundColor:'#e8e8e8',borderColor:'rgba(190,190,190,.9)',borderWidth:.4,clip:false},
 {data:seg([[[0,-2],[0,42]]]),showLine:true,spanGaps:false,borderColor:'#999',borderWidth:1.1,borderDash:[3,2],pointRadius:0}]},
 options:{scales:{x:axis(-5.2,5.05,[-5,-2.5,0,2.5,5],'log\u2082(Fold change)',v=>minus(v.toFixed(1))),y:axis(-2,42,[0,10,20,30,40],'\u2212log\u2081\u2080FDR')}}});
volcLabels.forEach(l=>txt(l[0],500+l[1]/3,470+l[2]/3,{size:5.6,align:'center',style:'italic',bg:l[3],color:'#3a2a1a'}));
txt('\u2212log<sub>10</sub>FDR',686,571,{size:7.4});
rect(686,578.5,6,28,`background:linear-gradient(to bottom,#14081f,#4b1a70 20%,#b5366f 45%,#ee7b5e 65%,#fbb880 85%,#fdf3c8)`);
[['90',585],['60',592],['30',600]].forEach(l=>txt(l[0],695,l[1],{size:7.4}));

/* panel letters */
[['a',1,6],['b',343,6],['c',510,7],['d',512,180],['e',1,310],['f',1,530],['g',233,488],['h',528,486]].forEach(l=>txt(l[0],l[1],l[2],{size:12,weight:800,color:'#000'}));
</script>
</body></html>
